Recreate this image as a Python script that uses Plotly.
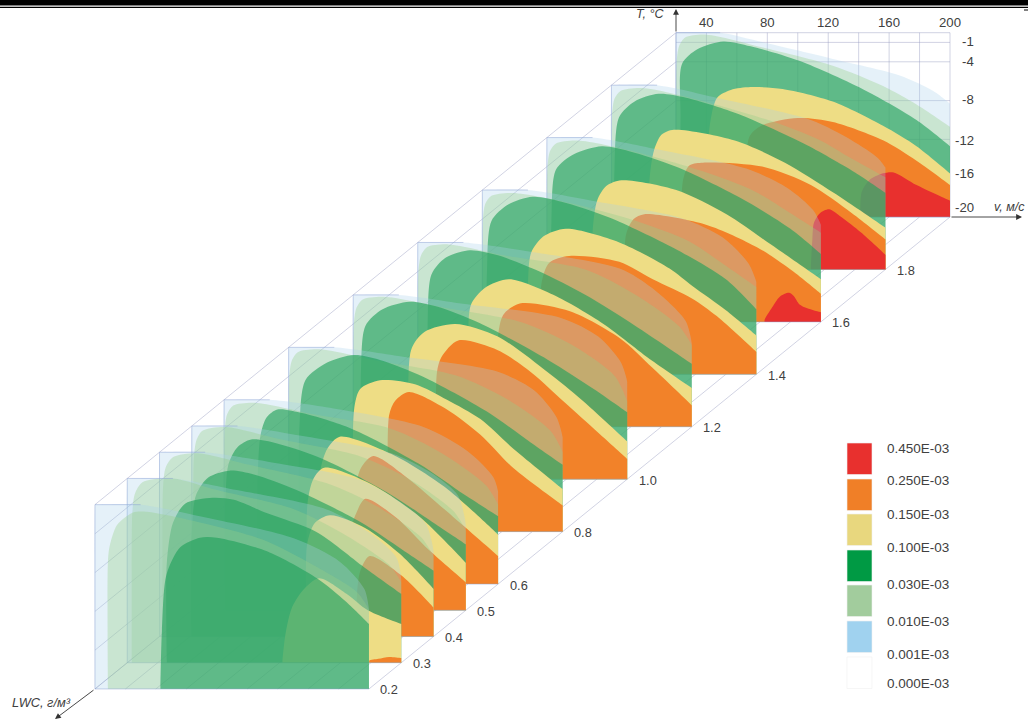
import plotly.graph_objects as go

LWC_SLICES = [2.0, 1.8, 1.6, 1.4, 1.2, 1.0, 0.8, 0.6, 0.5, 0.4, 0.3, 0.2]
LWC_LABELS = [1.8, 1.6, 1.4, 1.2, 1.0, 0.8, 0.6, 0.5, 0.4, 0.3, 0.2]
V_TICKS = [40, 80, 120, 160, 200]
T_TICKS = [-1, -4, -8, -12, -16, -20]
V_GRID = [20, 40, 60, 80, 100, 120, 140, 160, 180, 200]
T_GRID_BACK = [-1, -2, -4, -8, -12, -16, -20]
LEGEND_TEXT = ["0.450E-03", "0.250E-03", "0.150E-03", "0.100E-03",
               "0.030E-03", "0.010E-03", "0.001E-03", "0.000E-03"]
LEGEND_COLORS = ["#E8302E", "#F07F27", "#E8D77E", "#009A44", "#A2CC9D", "#A0D2EF", "#FFFFFF"]

# Level 0.001E-03 boundary: (v, T)
V_PALE = {
    2.0: [20, 49, 80, 123, 167, 189, 200], 1.8: [20, 50, 92, 151, 178, 195, 200],
    1.6: [20, 50, 92, 151, 178, 195, 200], 1.4: [20, 50, 92, 151, 178, 195, 200],
    1.2: [20, 50, 92, 153, 174, 196, 200], 1.0: [20, 50, 92, 157, 181, 196, 200],
    0.8: [20, 50, 92, 157, 181, 196, 200], 0.6: [20, 50, 92, 151, 180, 197, 200],
    0.5: [20, 50, 92, 151, 177, 195, 200], 0.4: [20, 50, 92, 151, 177, 195, 200],
    0.3: [20, 50, 92, 151, 181, 197, 200], 0.2: [20, 50, 92, 151, 181, 197, 200],
}
T_PALE = {
    2.0: [-1, -1, -2.1, -3.7, -5.4, -7, -8.3], 1.8: [-1, -1, -2.4, -4.6, -6.7, -8.5, -9.5],
    1.6: [-1, -1, -2.2, -4.2, -6.2, -8.5, -10], 1.4: [-1, -1, -2.1, -3.9, -5.9, -8.6, -10.5],
    1.2: [-1, -1, -1.9, -3.7, -5.7, -9.1, -11.5], 1.0: [-1, -1, -1.9, -3.4, -5.3, -8, -10],
    0.8: [-1, -1, -1.9, -3.5, -5.4, -8.2, -10.3], 0.6: [-1, -1, -1.9, -3.8, -6.3, -9, -10.5],
    0.5: [-1, -1, -2, -3.8, -5.8, -8.2, -11.3], 0.4: [-1, -1, -2, -3.8, -6, -8.4, -11.2],
    0.3: [-1, -1, -2.2, -4.2, -6.8, -9.2, -11.6], 0.2: [-1, -1, -2.3, -4.5, -6.9, -9.7, -12],
}
# Level 0.010E-03 boundary
V_LIGHT = {
    2.0: [20, 20, 20.4, 22, 26, 40, 79, 123, 156, 178, 200],
    1.8: [20, 20, 20.4, 22, 26, 40, 79, 123, 156, 178, 200],
    1.6: [20, 20, 20.4, 22, 26, 40, 79, 123, 156, 178, 200],
    1.4: [20, 20, 20.4, 22, 26, 40, 79, 123, 156, 178, 200],
    1.2: [20, 20, 20.4, 22, 26, 40, 79, 130, 163, 192, 200],
    1.0: [20, 20, 20.4, 22, 26, 40, 79, 130, 163, 192, 200],
    0.8: [20, 20, 20.4, 22, 26, 40, 79, 130, 163, 192, 200],
    0.6: [20, 20, 20.4, 22, 26, 40, 79, 130, 163, 192, 200],
    0.5: [21, 21, 21.4, 23, 27, 42, 79, 130, 163, 192, 200],
    0.4: [22, 22, 22.4, 24, 29, 45, 79, 130, 163, 192, 200],
    0.3: [23, 23, 23.4, 25, 30, 50, 79, 130, 163, 192, 200],
    0.2: [28.5, 28.5, 29.5, 34.5, 45, 52, 71, 130, 163, 192, 200],
}
T_LIGHT = {
    2.0: [-20, -6, -4, -2.4, -1.5, -1.2, -2.6, -4.4, -6.5, -8.4, -10.7],
    1.8: [-20, -6, -4, -2.4, -1.6, -1.3, -2.6, -4.6, -6.6, -8.6, -10.5],
    1.6: [-20, -6, -4, -2.4, -1.6, -1.3, -2.5, -4.5, -6.5, -8.6, -10.8],
    1.4: [-20, -6, -4, -2.4, -1.6, -1.3, -2.4, -4.3, -6.3, -8.6, -11],
    1.2: [-20, -6, -4, -2.4, -1.5, -1.2, -2.4, -3.8, -6.4, -9.7, -11.6],
    1.0: [-20, -6, -4, -2.4, -1.5, -1.2, -2.3, -3.8, -6.1, -9.4, -12],
    0.8: [-20, -6, -4, -2.4, -1.5, -1.2, -2.4, -3.9, -6.3, -9.6, -11.8],
    0.6: [-20, -6.2, -4.2, -2.5, -1.6, -1.3, -2.5, -4, -6.5, -9.8, -11.8],
    0.5: [-20, -6.2, -4.2, -2.5, -1.5, -1.1, -2.4, -4.1, -6.5, -9.8, -11.8],
    0.4: [-20, -6.4, -4.4, -2.6, -1.5, -1.1, -2.3, -4.2, -6.6, -9.8, -11.7],
    0.3: [-20, -6.4, -4.4, -2.6, -1.4, -1, -2.2, -4.2, -6.8, -9.9, -11.7],
    0.2: [-20, -7, -5.4, -3.1, -1.8, -1.7, -2.2, -4.6, -7.2, -10, -11.8],
}
# Level 0.030E-03 boundary
V_GREEN = {
    2.0: [23, 23, 24, 34, 51, 69, 101, 145, 178, 200], 1.8: [22, 22, 25, 35, 51, 69, 102, 146, 180, 200],
    1.6: [23, 23, 26, 38, 56, 74, 105, 147, 180, 200], 1.4: [23, 23, 26, 37, 53, 72, 103, 146, 180, 200],
    1.2: [26.5, 26.5, 29, 38, 54, 72, 100, 130, 163, 200], 1.0: [25, 25, 28, 39, 57, 75, 103, 148, 178, 200],
    0.8: [27, 27, 31, 45, 63, 80, 108, 150, 179, 200], 0.6: [42, 42, 44, 48, 55, 72, 104, 148, 178, 200],
    0.5: [42, 42, 44, 50, 59, 76, 106, 150, 179, 200], 0.4: [41, 41, 44, 52, 66, 82, 110, 152, 180, 200],
    0.3: [46, 46, 50, 58, 76, 90, 112, 144, 176, 200], 0.2: [63, 64, 67, 76, 89, 100, 133, 166, 185, 200],
}
T_GREEN = {
    2.0: [-20, -9.7, -4.2, -2.7, -1.9, -2.4, -3.9, -7, -10, -12.7],
    1.8: [-20, -9.7, -4.3, -2.7, -1.9, -2.3, -3.9, -7, -10, -12.1],
    1.6: [-20, -9.7, -4.3, -2.7, -1.9, -2.4, -4, -7.2, -10.4, -13],
    1.4: [-20, -9.7, -4.2, -2.5, -1.7, -2.2, -3.8, -7, -10.2, -13.3],
    1.2: [-20, -9.7, -4.3, -2.6, -1.8, -2.3, -4, -6.4, -9.6, -13.5],
    1.0: [-20, -9.7, -4.2, -2.5, -1.7, -2.2, -3.9, -7.7, -10.7, -13.1],
    0.8: [-20, -9.7, -4.4, -2.6, -1.8, -2.3, -4, -7.6, -10.8, -13.1],
    0.6: [-20, -9.7, -4.6, -2.8, -2, -2.4, -4, -7.6, -10.8, -13],
    0.5: [-20, -9.7, -5, -3.2, -2.4, -2.8, -4.4, -8, -11, -13.2],
    0.4: [-20, -9.7, -5.4, -3.6, -2.9, -3.3, -4.9, -8.2, -11.1, -13.2],
    0.3: [-20, -9.7, -5.6, -3.6, -3, -3.2, -4.6, -6.5, -10.2, -12.9],
    0.2: [-20, -14, -8.2, -5.4, -4.4, -4.4, -5.8, -8.6, -11, -13.3],
}
# Level 0.100E-03 boundary
V_YELLOW = {
    2.0: [40, 42, 47, 56, 69, 90, 123, 156, 178, 200], 1.8: [45, 45, 48, 53, 61, 101, 134, 166, 200],
    1.6: [50, 50, 53, 59, 69, 105, 138, 167, 200], 1.4: [50, 50, 52, 60, 75, 110, 143, 158, 180, 200],
    1.2: [52, 53, 55, 64, 80, 109, 142, 174, 200], 1.0: [58, 58, 67, 87, 115, 148, 170, 200],
    0.8: [63, 63, 67, 80, 103, 124, 146, 168, 200], 0.6: [83, 83, 88, 96, 130, 165, 200],
    0.5: [96, 96, 100, 107, 138, 170, 200], 0.4: [117, 117, 122, 132, 155, 178, 200],
    0.3: [122, 124, 128, 135, 146, 164, 178, 200],
}
T_YELLOW = {
    2.0: [-20, -10.8, -7.7, -6.9, -6.6, -6.8, -8.1, -10.6, -12.7, -15.5],
    1.8: [-20, -10.8, -7.7, -6.1, -5.6, -6.7, -9, -12.1, -15.7],
    1.6: [-20, -10.8, -7.5, -6, -5.4, -6.4, -8.9, -12, -15.6],
    1.4: [-20, -10.8, -7.5, -5.8, -5, -6.4, -9.1, -10.9, -13.4, -16],
    1.2: [-20, -10.8, -7.4, -5.7, -4.8, -6.4, -9.4, -13.2, -16],
    1.0: [-20, -6.7, -4.8, -4, -5.3, -9, -11.8, -16.1],
    0.8: [-20, -7.4, -5.3, -4.4, -4.8, -6.4, -8.4, -11.5, -15.6],
    0.6: [-20, -8.5, -6, -4.8, -6.6, -10, -14.9],
    0.5: [-20, -9, -6.4, -5.3, -7, -10.4, -15.1],
    0.4: [-20, -10.5, -8.3, -7.5, -8.8, -11.5, -15.1],
    0.3: [-20, -17, -14.4, -12.6, -11.3, -12.9, -14.6, -16],
}
# Level 0.150E-03 boundary
V_ORANGE = {
    2.0: [67, 68, 76, 100, 123, 156, 178, 200], 1.8: [66, 67, 71, 79, 119, 151, 178, 200],
    1.6: [71, 72, 77, 84, 125, 158, 181, 200], 1.4: [58, 59, 64, 77, 110, 132, 158, 174, 200],
    1.2: [71, 72, 76, 87, 120, 153, 174, 200], 1.0: [75, 75, 78, 89, 115, 137, 159, 181, 200],
    0.8: [86, 86, 90, 99, 124, 146, 168, 200], 0.6: [105, 106, 110, 118, 140, 170, 200],
    0.5: [122, 123, 128, 134, 154, 176, 200], 0.4: [149, 150, 152, 158, 179, 200],
    0.3: [179, 185, 192, 200],
}
T_ORANGE = {
    2.0: [-20, -11.8, -10.6, -9.8, -10.2, -12.1, -14.2, -16.7],
    1.8: [-20, -10.8, -9.3, -9, -9.4, -11.3, -14.2, -16.9],
    1.6: [-20, -11, -9.4, -8.9, -10, -12.3, -14.7, -17.1],
    1.4: [-20, -10.5, -8.5, -7.8, -8.4, -10.2, -12.2, -14, -17.7],
    1.2: [-20, -11.8, -8.5, -7.3, -8.1, -10.9, -13.9, -17.8],
    1.0: [-20, -9, -7.4, -5.7, -6.7, -9, -12.1, -15.2, -17.9],
    0.8: [-20, -8, -6.5, -5.6, -7.4, -10, -13.5, -17.3],
    0.6: [-20, -10.5, -8, -6.8, -9, -13, -17.1],
    0.5: [-20, -12.5, -10, -8.5, -10.4, -13.8, -17.1],
    0.4: [-20, -15, -13.2, -11.7, -13.7, -17],
    0.3: [-20, -19.6, -19.4, -19.5],
}
# Level 0.250E-03 boundary
V_RED = {
    2.0: [141, 142, 147, 156, 163, 178, 200],
    1.8: [151, 152, 153, 157, 163, 171, 184, 200],
    1.6: [163, 168, 173, 179, 182, 186, 191, 200],
}
T_RED = {
    2.0: [-20, -17.4, -16.2, -15.5, -15.4, -16.7, -18.3],
    1.8: [-20, -16.9, -15.2, -14.2, -13.8, -14.6, -16.2, -18.5],
    1.6: [-20, -18.5, -17.4, -17, -17.3, -18.2, -18.6, -19],
}

FILL_PALE = "rgba(170,210,235,0.30)"
FILL_LIGHT = "rgba(150,205,135,0.35)"
FILL_GREEN = "rgba(30,160,90,0.62)"
FILL_YELLOW = "#EEDD85"
FILL_ORANGE = "#F28229"
FILL_RED = "#E8302E"
GRID = "rgba(150,155,190,0.55)"
FRAME = "rgba(140,160,210,0.6)"
TEXT = "#404040"
FONT = "Liberation Sans"


def px(v, lwc):
    return 950 - 274 * (200 - v) / 180 - (2.0 - lwc) * 322.8


def py(t, lwc):
    return 217 - (t + 20) * 9.7 + (2.0 - lwc) * 262.2


def polygon(vs, ts):
    e = 0.25
    v0 = vs[0]
    pv, pt = [], []
    if ts[0] != -20:
        pv += [v0, v0, v0, v0 + 0.3]
        pt += [-20, -19.8, ts[0] - 0.2, ts[0]]
    else:
        pv += [v0, v0]
        pt += [-20, -19.8]
        vs, ts = vs[1:], ts[1:]
    pv += list(vs)
    pt += list(ts)
    pv += [199.8, 200, 200, 200, 200, 199.8, v0 + e]
    pt += [ts[-1] + 0.02, ts[-1], ts[-1] - 0.1, -19.8, -20, -20, -20]
    return pv, pt


fig = go.Figure()


def add_line(xs, ys, color=GRID, width=0.8):
    fig.add_trace(go.Scatter(x=xs, y=ys, mode="lines", hoverinfo="skip",
                             line=dict(color=color, width=width)))


front, back = LWC_SLICES[-1], LWC_SLICES[0]
for t in T_TICKS:
    add_line([px(20, back), px(20, front)], [py(t, back), py(t, front)])
for v in V_GRID:
    add_line([px(v, back), px(v, front)], [py(-20, back), py(-20, front)])
for v in V_GRID:
    add_line([px(v, back)] * 2, [py(-1, back), py(-20, back)])
for t in T_GRID_BACK:
    add_line([px(20, back), px(200, back)], [py(t, back)] * 2)

LAYERS = [(V_PALE, T_PALE, FILL_PALE), (V_LIGHT, T_LIGHT, FILL_LIGHT), (V_GREEN, T_GREEN, FILL_GREEN),
          (V_YELLOW, T_YELLOW, FILL_YELLOW), (V_ORANGE, T_ORANGE, FILL_ORANGE), (V_RED, T_RED, FILL_RED)]

for lwc in LWC_SLICES:
    for vd, td, col in LAYERS:
        if lwc not in vd:
            continue
        pv, pt = polygon(vd[lwc], td[lwc])
        fig.add_trace(go.Scatter(
            x=[px(v, lwc) for v in pv], y=[py(t, lwc) for t in pt], mode="lines",
            fill="toself", fillcolor=col, hoverinfo="skip",
            line=dict(width=0, shape="spline", smoothing=0.8, color=col)))
    # slice frame
    fv = [200, 20, 20] + V_PALE[lwc][:2]
    ft = [-20, -20, -1] + T_PALE[lwc][:2]
    add_line([px(v, lwc) for v in fv], [py(t, lwc) for t in ft], FRAME, 0.8)

ann = []


def label(x, y, text, size=13.2, anchor="center"):
    ann.append(dict(x=x, y=y, text=text, showarrow=False, xanchor=anchor, yanchor="middle",
                    font=dict(family=FONT, size=size, color=TEXT)))


for v in V_TICKS:
    label(px(v, back), 22, str(v))
for t, y in zip(T_TICKS, [41, 61, 99, 140, 173, 207]):
    label(976, y, str(t), anchor="right")
for lwc in LWC_LABELS:
    label(px(200, lwc) + 9.5, py(-20, lwc) + 1, f"{lwc:.1f}", size=12.8, anchor="left")
label(650, 14, "<i>T, °C</i>", size=12.5)
label(1009, 207, "<i>v, м/с</i>", size=12.5)
label(41, 702, "<i>LWC, г/м³</i>", size=12.8)

# axes with arrows
for x0, y0, x1, y1 in [(676, 33, 676, 9), (950, 217, 1022, 217), (95, 689, 55, 719)]:
    ann.append(dict(x=x1, y=y1, ax=x0, ay=y0, xref="x", yref="y", axref="x", ayref="y", text="",
                    showarrow=True, arrowhead=2, arrowsize=1.3, arrowwidth=0.9, arrowcolor="#333"))

shapes = [
    dict(type="rect", x0=0, x1=1028, y0=0, y1=5.5, fillcolor="#000", line_width=0, layer="above"),
    dict(type="rect", x0=0, x1=1028, y0=6.8, y1=8, fillcolor="#000", line_width=0, layer="above"),
    dict(type="rect", x0=1024, x1=1028, y0=9.5, y1=10.5, fillcolor="#000", line_width=0, layer="above"),
]
LEG_Y0 = [443, 479, 514, 550, 585, 621, 657]
for y0, c in zip(LEG_Y0, LEGEND_COLORS):
    shapes.append(dict(type="rect", x0=847, x1=872, y0=y0, y1=y0 + 31.5, fillcolor=c,
                       line=dict(color="#F0F0F0", width=0.6)))
for y, s in zip([448, 480, 514, 547, 584, 621, 654, 683], LEGEND_TEXT):
    label(885, y, s, size=13.5, anchor="left")

fig.update_layout(
    width=1028, height=722, margin=dict(l=0, r=0, t=0, b=0), showlegend=False,
    paper_bgcolor="white", plot_bgcolor="white",
    xaxis=dict(range=[0, 1028], visible=False, fixedrange=True),
    yaxis=dict(range=[722, 0], visible=False, fixedrange=True),
    annotations=ann, shapes=shapes)
fig.write_html("out.html", config=dict(displayModeBar=False),
               post_script="document.body.style.margin='0';")
